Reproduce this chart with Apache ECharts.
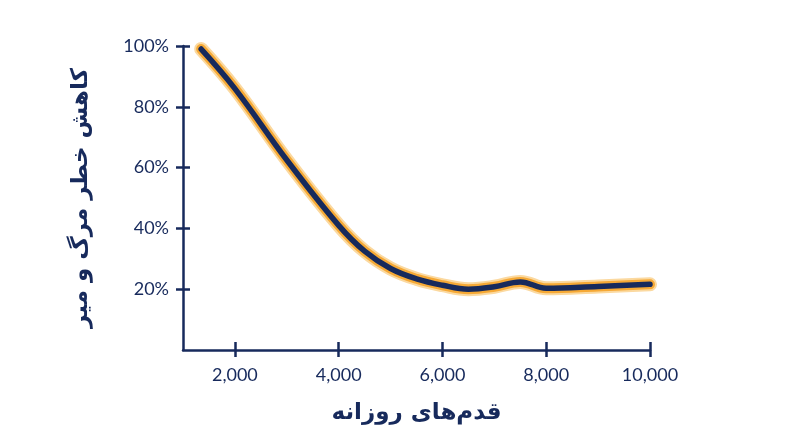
<!DOCTYPE html>
<html>
<head>
<meta charset="utf-8">
<script src="https://cdn.jsdelivr.net/npm/echarts@6/dist/echarts.min.js"></script>
<style>
html,body{margin:0;padding:0;background:#fff;}
#c{width:800px;height:447px;}
</style>
</head>
<body>
<div id="c"></div>
<script>
var steps = [1350, 2000, 3000, 4000, 4500, 5000, 5500, 6000, 6500, 7000, 7500, 8000, 9000, 10000];
var risk = [99, 86, 62.5, 41, 32.5, 26.8, 23.4, 21.3, 20, 20.8, 22.4, 20.3, 20.9, 21.6];
var xTicks = [2000, 4000, 6000, 8000, 10000];
var yTicks = [20, 40, 60, 80, 100];
var xTitle = 'قدم‌های روزانه';
var yTitle = 'کاهش خطر مرگ و میر';

var navy = '#172a5c';
var orange = '#f6a935';
var data = steps.map(function (s, i) { return [s, risk[i]]; });

var chart = echarts.init(document.getElementById('c'));
var labelFont = {color: navy, fontSize: 18, fontFamily: 'Lato, "Noto Sans", sans-serif'};
chart.setOption({
  animation: false,
  grid: {left: 183, right: 150, top: 46, bottom: 97},
  xAxis: [{
    type: 'value', min: 1000, max: 10000,
    name: xTitle, nameLocation: 'middle', nameGap: 52,
    nameTextStyle: {color: navy, fontSize: 23, fontWeight: 'bold', fontFamily: '"DejaVu Sans", sans-serif'},
    axisLine: {show: true, lineStyle: {color: navy, width: 2.5}},
    axisTick: {show: true, length: 7, lineStyle: {color: navy, width: 2.5}, customValues: xTicks},
    axisLabel: Object.assign({margin: 16, customValues: xTicks, formatter: function (v) { return v.toLocaleString('en-US'); }}, labelFont),
    splitLine: {show: false}
  }, {
    type: 'value', min: 1000, max: 10000, position: 'bottom',
    axisLine: {show: false},
    axisTick: {show: true, inside: true, length: 8, lineStyle: {color: navy, width: 2.5}, customValues: xTicks},
    axisLabel: {show: false}, splitLine: {show: false}
  }],
  yAxis: [{
    type: 'value', min: 0, max: 100,
    name: yTitle, nameLocation: 'middle', nameGap: 90, nameRotate: 90,
    nameTextStyle: {color: navy, fontSize: 23, fontWeight: 'bold', fontFamily: '"DejaVu Sans", sans-serif'},
    axisLine: {show: true, lineStyle: {color: navy, width: 2.5}},
    axisTick: {show: true, length: 7, lineStyle: {color: navy, width: 2.5}, customValues: yTicks},
    axisLabel: Object.assign({margin: 14, customValues: yTicks, formatter: '{value}%'}, labelFont),
    splitLine: {show: false}
  }, {
    type: 'value', min: 0, max: 100, position: 'left',
    axisLine: {show: false},
    axisTick: {show: true, inside: true, length: 7, lineStyle: {color: navy, width: 2.5}, customValues: yTicks},
    axisLabel: {show: false}, splitLine: {show: false}
  }],
  series: [{
    type: 'line', data: data, smooth: 0.4, showSymbol: false, silent: true,
    lineStyle: {color: '#fbd9a0', width: 14, cap: 'round', join: 'round'}
  }, {
    type: 'line', data: data, smooth: 0.4, showSymbol: false, silent: true,
    lineStyle: {color: orange, width: 10, cap: 'round', join: 'round'}
  }, {
    type: 'line', data: data, smooth: 0.4, showSymbol: false, silent: true,
    lineStyle: {color: navy, width: 5.5, cap: 'round', join: 'round'}
  }]
});
</script>
</body>
</html>
